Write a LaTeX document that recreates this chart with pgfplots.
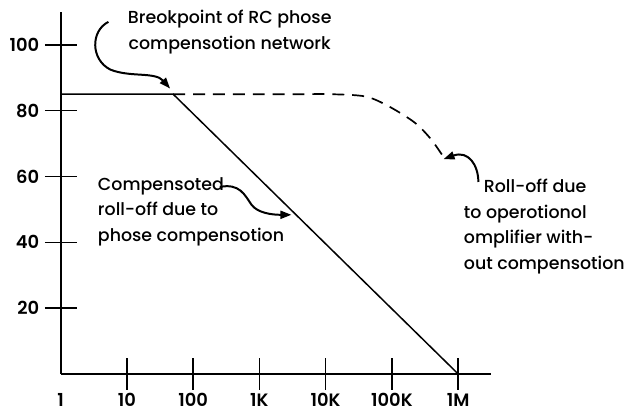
\documentclass[border=0pt]{standalone}
\usepackage{fontspec}
\setmainfont{Poppins}[UprightFont={* Medium}]
\newfontfamily\tickfont{Poppins}[UprightFont={* SemiBold}]
\usepackage{pgfplots}
\pgfplotsset{compat=1.18}
\usetikzlibrary{arrows.meta}

\begin{document}
\begin{tikzpicture}[x=1pt,y=1pt]
\begin{axis}[
  scale only axis,
  width=433pt, height=364pt,
  xmode=log, log basis x=10,
  xmin=1, xmax=3162278,
  ymin=0, ymax=110,
  axis x line=bottom, axis y line=left,
  axis line style={-, line width=1.8pt},
  tick align=center,
  major tick length=32pt,
  tick style={line width=1.4pt, black},
  xtick={10,100,1000,10000,100000,1000000},
  xticklabels={10,100,1K,10K,100K,1M},
  extra x ticks={1},
  extra x tick labels={1},
  extra x tick style={tick style={draw=none}},
  ytick={20,40,60,80,100},
  minor tick num=0,
  xminorticks=false,
  /pgf/number format/assume math mode=true,
  tick label style={font=\tickfont\fontsize{18}{20}\selectfont},
  xticklabel style={yshift=0pt},
  yticklabel style={xshift=-2pt},
  clip=false,
]
% compensated response: flat to the RC breakpoint, then -20 dB/decade
\addplot[black, line width=1.5pt] coordinates {(1,85) (50,85) (1000000,0)};
% uncompensated amplifier roll-off
\addplot[black, line width=1.7pt, dash pattern=on 12pt off 8pt, smooth, tension=0.5] coordinates {
  (50,85) (3000,85) (12000,85) (40000,84.3) (90000,81.3) (220000,76.4) (390000,71.3) (630000,65.3)};
\end{axis}

% annotations (positions in pt from the axis origin)
\begin{scope}[font=\fontsize{17.5}{25.5}\selectfont]
\node[align=center, anchor=north] at (170,369) {Breokpoint of RC phose\\compensotion network};
\node[align=left, anchor=north west] at (34,201) {Compensoted\\roll-off due to\\phose compensotion};
\node[align=left, anchor=north west] at (402,199) {\hspace*{20pt}Roll-off due\\to operotionol\\omplifier with-\\out compensotion};
\end{scope}

\begin{scope}[line width=2pt, -{Triangle[length=11pt,width=8pt]}]
\draw (48,354) .. controls (30,345) and (30,316) .. (50,306)
      .. controls (70,298) and (95,304) .. (110,287);
\draw (160,188) .. controls (180,192) and (185,180) .. (192,170)
      .. controls (198,162) and (212,160) .. (232,160);
\draw (420,193) .. controls (420,210) and (410,225) .. (385,216);
\end{scope}

\useasboundingbox (-61,-40) rectangle (567,376);
\end{tikzpicture}
\end{document}
